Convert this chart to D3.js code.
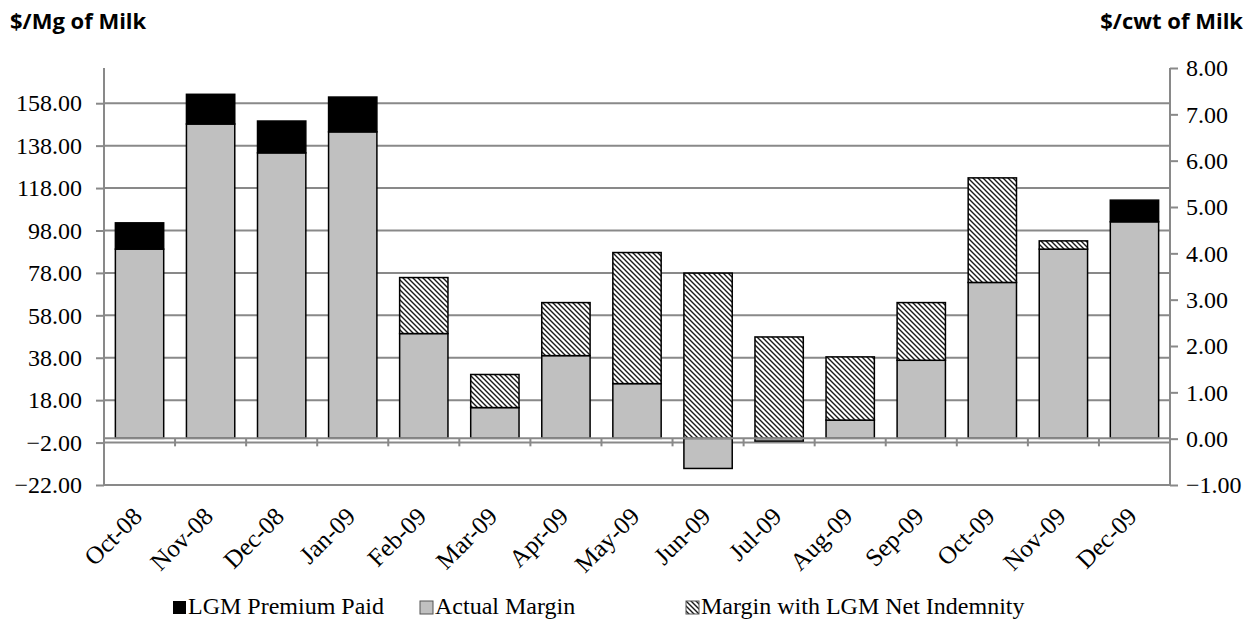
<!DOCTYPE html>
<html>
<head>
<meta charset="utf-8">
<script src="https://cdn.jsdelivr.net/npm/d3@7"></script>
<style>
  body { margin: 0; background: #fff; }
</style>
</head>
<body>
<div id="chart"></div>
<script>
// data ($/Mg of milk), stacked segments
const months = ["Oct-08", "Nov-08", "Dec-08", "Jan-09", "Feb-09", "Mar-09", "Apr-09", "May-09",
  "Jun-09", "Jul-09", "Aug-09", "Sep-09", "Oct-09", "Nov-09", "Dec-09"]
const actualMargin = [89.2, 148.2, 134.6, 144.5, 49.4, 14.5, 39.0, 25.8, -14.2, -1.3, 8.6, 36.8, 73.5, 89.2, 102.1]
const premiumPaid = [12.4, 14.0, 15.0, 16.4, 0, 0, 0, 0, 0, 0, 0, 0, 0, 0, 10.2]
const netIndemnity = [0, 0, 0, 0, 26.4, 15.6, 25.0, 61.8, 77.9, 47.8, 29.8, 27.2, 49.3, 3.9, 0]

const leftTicks = [-22, -2, 18, 38, 58, 78, 98, 118, 138, 158]
const rightTicks = [-1, 0, 1, 2, 3, 4, 5, 6, 7, 8]

const seriesKeys = ["actual", "premium", "indemnity"]
const legendItems = [
  { key: "premium", label: "LGM Premium Paid" },
  { key: "actual", label: "Actual Margin" },
  { key: "indemnity", label: "Margin with LGM Net Indemnity" },
]

const width = 1260
const height = 621
const plot = { left: 104, right: 1170, top: 68, bottom: 485 }
const serif = "'Liberation Serif', 'Times New Roman', serif"
const sans = "'Open Sans', 'Noto Sans', sans-serif"

const rows = months.map((m, i) => ({
  month: m,
  actual: actualMargin[i],
  premium: premiumPaid[i],
  indemnity: netIndemnity[i],
}))

const stacked = d3.stack()
  .keys(seriesKeys)
  .offset(d3.stackOffsetDiverging)(rows)

const xScale = d3.scaleBand()
  .domain(months)
  .range([plot.left, plot.right])
  .paddingInner(0.32)
  .paddingOuter(0.16)

const yScale = d3.scaleLinear()
  .domain([-22, 174.6])
  .range([plot.bottom, plot.top])

const yRight = d3.scaleLinear()
  .domain([-1, 8])
  .range([plot.bottom, plot.top])

const svg = d3.select("#chart").append("svg")
  .attr("width", width)
  .attr("height", height)

const defs = svg.append("defs")
const hatch = defs.append("pattern")
  .attr("id", "hatch")
  .attr("patternUnits", "userSpaceOnUse")
  .attr("width", 5)
  .attr("height", 5)
hatch.append("rect").attr("width", 5).attr("height", 5).attr("fill", "#fff")
hatch.append("path")
  .attr("d", "M0,0 L5,5 M-1,4 L1,6 M4,-1 L6,1")
  .attr("stroke", "#1a1a1a")
  .attr("stroke-width", 1.4)

const fills = { actual: "#c0c0c0", premium: "#000", indemnity: "url(#hatch)" }
const gridColor = "#898989"

// gridlines
svg.append("g")
  .selectAll("line")
  .data(leftTicks)
  .join("line")
    .attr("x1", plot.left)
    .attr("x2", plot.right)
    .attr("y1", d => yScale(d))
    .attr("y2", d => yScale(d))
    .attr("stroke", gridColor)
    .attr("stroke-width", 2)

function styleAxis(g) {
  g.attr("font-family", null).attr("font-size", null)
  g.select(".domain").attr("stroke", gridColor).attr("stroke-width", 2)
    .attr("d", `M0,${plot.top}V${plot.bottom}`)
  g.selectAll(".tick line").attr("stroke", gridColor).attr("stroke-width", 2)
  g.selectAll(".tick text")
    .style("font-family", serif)
    .style("font-size", "24px")
    .attr("fill", "#000")
}

// left axis
svg.append("g")
  .attr("transform", `translate(${plot.left},0)`)
  .call(d3.axisLeft(yScale).tickValues(leftTicks).tickSize(8).tickPadding(14).tickFormat(d3.format(".2f")))
  .call(styleAxis)

// right axis
svg.append("g")
  .attr("transform", `translate(${plot.right},0)`)
  .call(d3.axisRight(yRight).tickValues(rightTicks).tickSize(8).tickPadding(8).tickFormat(d3.format(".2f")))
  .call(styleAxis)

// bars
svg.append("g")
  .selectAll("g")
  .data(stacked)
  .join("g")
    .attr("fill", d => fills[d.key])
  .selectAll("rect")
  .data(d => d.filter(s => s[1] !== s[0]))
  .join("rect")
    .attr("x", d => xScale(d.data.month))
    .attr("width", xScale.bandwidth())
    .attr("y", d => yScale(Math.max(d[0], d[1])))
    .attr("height", d => Math.abs(yScale(d[0]) - yScale(d[1])))
    .attr("stroke", "#000")
    .attr("stroke-width", 1.5)

// category axis at zero
const zeroY = yScale(0)
const xAxis = svg.append("g")
  .attr("transform", `translate(0,${zeroY})`)
xAxis.append("line")
  .attr("x1", plot.left).attr("x2", plot.right)
  .attr("stroke", gridColor).attr("stroke-width", 2)
xAxis.selectAll(".xtick")
  .data(months.slice(1))
  .join("line")
    .attr("class", "xtick")
    .attr("x1", d => xScale(d) - xScale.step() * xScale.paddingInner() / 2)
    .attr("x2", d => xScale(d) - xScale.step() * xScale.paddingInner() / 2)
    .attr("y1", 0).attr("y2", 8)
    .attr("stroke", gridColor).attr("stroke-width", 2)

// category labels below the plot
svg.append("g")
  .selectAll("text")
  .data(months)
  .join("text")
    .attr("text-anchor", "end")
    .style("font-family", serif)
    .style("font-size", "25px")
    .attr("transform", d => `translate(${xScale(d) + xScale.bandwidth() / 2 + 4},${plot.bottom + 33}) rotate(-45)`)
    .text(d => d)

// axis titles
svg.append("text").attr("x", 10).attr("y", 29)
  .style("font-family", sans).style("font-weight", "bold").style("font-size", "22px")
  .text("$/Mg of Milk")
svg.append("text").attr("x", 1243).attr("y", 29)
  .attr("text-anchor", "end")
  .style("font-family", sans).style("font-weight", "bold").style("font-size", "22px")
  .text("$/cwt of Milk")

// legend
const legendPos = { premium: 173, actual: 420, indemnity: 686 }
const legend = svg.append("g")
  .selectAll("g")
  .data(legendItems)
  .join("g")
    .attr("transform", d => `translate(${legendPos[d.key]},${606})`)
legend.append("rect")
  .attr("x", 0).attr("y", -5).attr("width", 13).attr("height", 13)
  .attr("fill", d => fills[d.key])
  .attr("stroke", d => d.key === "premium" ? "none" : "#555")
  .attr("stroke-width", 1)
legend.append("text")
  .attr("x", 15)
  .attr("y", 8)
  .style("font-family", serif)
  .style("font-size", "24px")
  .text(d => d.label)
</script>
</body>
</html>
